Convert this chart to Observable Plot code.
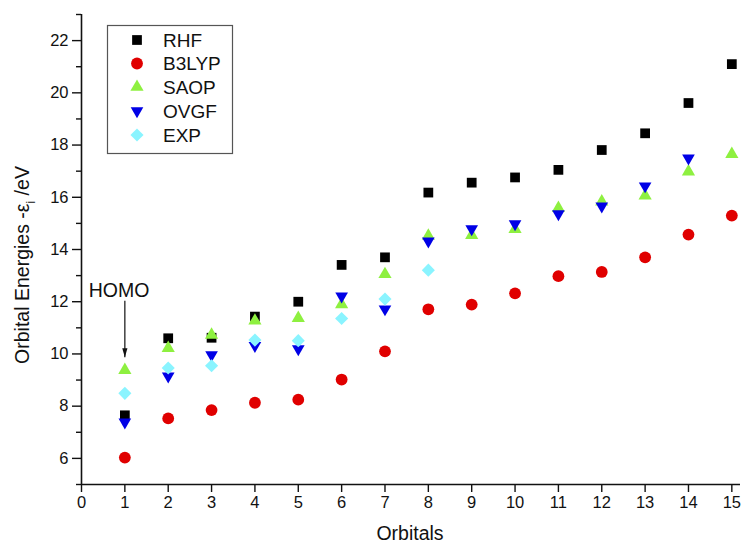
<!DOCTYPE html>
<html><head><meta charset="utf-8">
<script src="https://cdn.jsdelivr.net/npm/d3@7"></script>
<script src="https://cdn.jsdelivr.net/npm/@observablehq/plot@0.6"></script>
<style>body{margin:0;background:#fff}</style>
</head><body><div id="chart"></div>
<script>
const orbitals = [1,2,3,4,5,6,7,8,9,10,11,12,13,14,15];
const rhf   = [7.65, 10.6, 10.62, 11.43, 12.0, 13.41, 13.7, 16.18, 16.56, 16.76, 17.05, 17.81, 18.45, 19.61, 21.1];
const b3lyp = [6.03, 7.53, 7.85, 8.13, 8.25, 9.02, 10.1, 11.71, 11.89, 12.32, 12.98, 13.14, 13.7, 14.57, 15.3];
const saop  = [9.38, 10.22, 10.73, 11.27, 11.37, 11.9, 13.05, 14.52, 14.55, 14.78, 15.58, 15.83, 16.06, 16.98, 17.65];
const ovgf  = [7.39, 9.15, 9.96, 10.32, 10.19, 12.21, 11.72, 14.32, 14.79, 14.98, 15.36, 15.66, 16.43, 17.5];
const expt  = [8.49, 9.46, 9.55, 10.53, 10.51, 11.36, 12.1, 13.21];
const seriesNames = ["RHF", "B3LYP", "SAOP", "OVGF", "EXP"];
const xTicks = [0,1,2,3,4,5,6,7,8,9,10,11,12,13,14,15];
const yTicks = [6,8,10,12,14,16,18,20,22];
const yMinorTicks = [5,7,9,11,13,15,17,19,21,23];
const homo = {label: "HOMO", x: 1, textX: 0.865, textY: 12.42, yFrom: 12.04, yTo: 9.87};

const styles = {
  RHF:   {symbol: "square",   r: 5.5, fill: "#000000", rotate: 0},
  B3LYP: {symbol: "circle",   r: 5.9, fill: "#e00000", rotate: 0},
  SAOP:  {symbol: "triangle", r: 4.9, fill: "#8ef040", rotate: 0},
  OVGF:  {symbol: "triangle", r: 4.7, fill: "#0000e6", rotate: 180},
  EXP:   {symbol: "diamond2", r: 5.9, fill: "#8af4ff", rotate: 0}
};
const values = {RHF: rhf, B3LYP: b3lyp, SAOP: saop, OVGF: ovgf, EXP: expt};
const table = name => values[name].map((v, i) => ({series: name, x: orbitals[i], y: v}));

const arrowHead = {draw(ctx) { ctx.moveTo(0, 0); ctx.lineTo(-2.6, -9); ctx.lineTo(2.6, -9); ctx.closePath(); }};

const font = "'Liberation Sans', Arial, Helvetica, sans-serif";

const plot = Plot.plot({
  width: 743, height: 544,
  marginLeft: 81, marginRight: 3, marginTop: 14, marginBottom: 60,
  style: {fontFamily: font, fontSize: "16.5px", background: "#fff", color: "#111", overflow: "visible"},
  x: {domain: [0, 15.2]},
  y: {domain: [5, 23]},
  marks: [
    Plot.axisX({ticks: xTicks, tickSize: 8, tickPadding: 4, label: null, strokeWidth: 1.4, fontSize: 16.5}),
    Plot.axisY({ticks: yTicks, tickSize: 9, tickPadding: 4, label: null, strokeWidth: 1.4, fontSize: 16.5}),
    Plot.axisY({ticks: yMinorTicks, tickSize: 5, tickFormat: () => "", label: null, strokeWidth: 1.4}),
    Plot.ruleY([5], {x1: 0, x2: 15.2, stroke: "#111", strokeWidth: 1.6}),
    Plot.ruleX([0], {y1: 5, y2: 23, stroke: "#111", strokeWidth: 1.6}),
    ...seriesNames.map(name => Plot.dot(table(name), {
      x: "x", y: "y", symbol: styles[name].symbol, r: styles[name].r,
      fill: styles[name].fill, stroke: "none", rotate: styles[name].rotate
    })),
    Plot.link([homo], {x1: "x", x2: "x", y1: "yFrom", y2: "yTo", stroke: "#111", strokeWidth: 1.2}),
    Plot.dot([homo], {x: "x", y: "yTo", symbol: arrowHead, fill: "#111", stroke: "none", r: 3}),
    Plot.text([homo], {x: "textX", y: "textY", text: "label", fontSize: 19.5, fill: "#111"})
  ]
});

const svg = d3.select(plot);
// Axis titles
svg.append("text").attr("x", 410).attr("y", 533).attr("dy", "0.35em")
  .attr("text-anchor", "middle").attr("font-size", 19.5).attr("font-family", font)
  .attr("fill", "#111").text("Orbitals");
const yl = svg.append("text").attr("transform", "translate(29,265) rotate(-90)")
  .attr("text-anchor", "middle").attr("font-size", 19.5).attr("font-family", font).attr("fill", "#111");
yl.append("tspan").text("Orbital Energies -\u03b5");
yl.append("tspan").attr("font-size", 12).attr("dy", 6).text("i");
yl.append("tspan").attr("dy", -6).text(" /eV");

// Legend
const lg = svg.append("g");
lg.append("rect").attr("x", 107.5).attr("y", 25.5).attr("width", 125).attr("height", 128)
  .attr("fill", "#fff").attr("stroke", "#555").attr("stroke-width", 1.2);
const rowY = [40, 63.5, 87, 111, 135];
const symMap = {square: d3.symbolSquare, circle: d3.symbolCircle, triangle: d3.symbolTriangle, diamond2: d3.symbolDiamond2};
seriesNames.forEach((name, i) => {
  const s = styles[name];
  lg.append("path")
    .attr("d", d3.symbol(symMap[s.symbol], Math.PI * s.r * s.r)())
    .attr("transform", `translate(137,${rowY[i]}) rotate(${s.rotate})`)
    .attr("fill", s.fill);
  lg.append("text").attr("x", 163).attr("y", rowY[i]).attr("dy", "0.36em")
    .attr("text-anchor", "start")
    .attr("font-size", 19).attr("font-family", font).attr("fill", "#111").text(name);
});

document.getElementById("chart").append(plot);
</script>
</body></html>
